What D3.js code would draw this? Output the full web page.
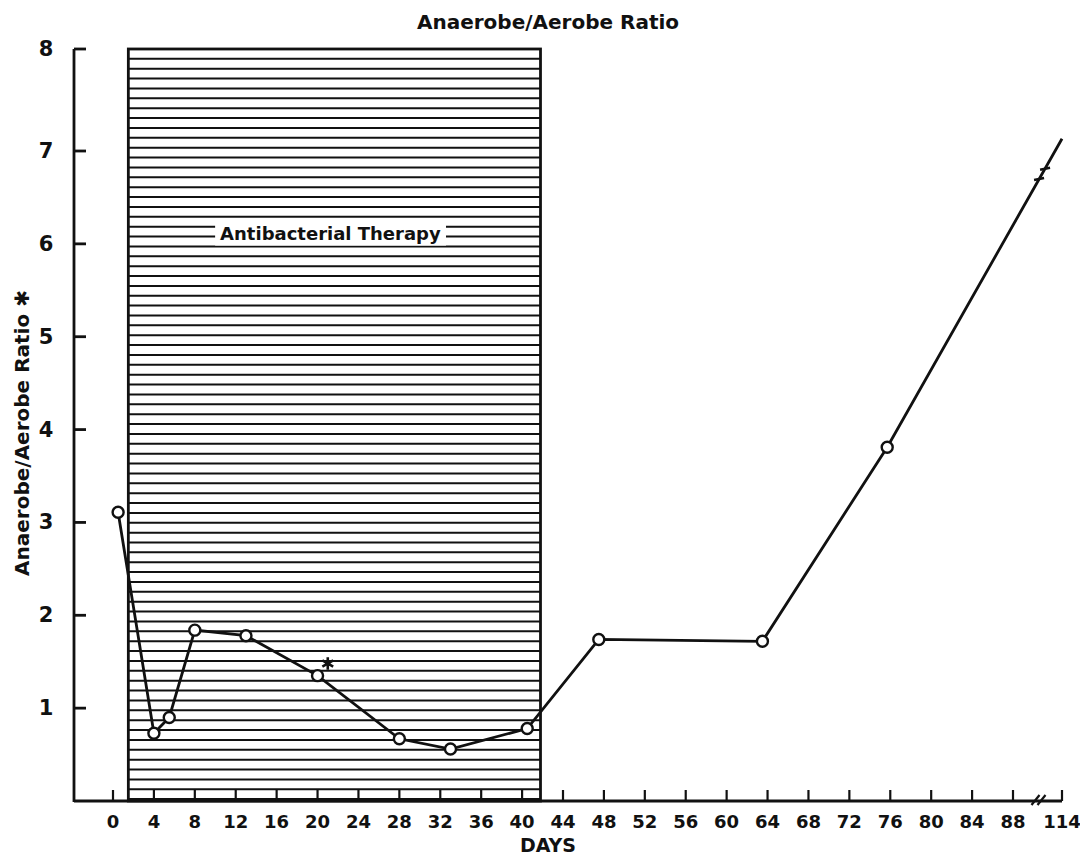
<!DOCTYPE html>
<html>
<head>
<meta charset="utf-8">
<script src="https://cdn.jsdelivr.net/npm/d3@7"></script>
<style>
  body { margin: 0; background: #fff; }
  text { font-family: "DejaVu Sans", sans-serif; font-weight: bold; fill: #111; }
</style>
</head>
<body>
<div id="chart"></div>
<script>
// values
const days   = [0.5, 4, 5.5, 8, 13, 20, 28, 33, 40.5, 47.5, 63.5, 75.7, 114];
const ratios = [3.11, 0.73, 0.9, 1.84, 1.78, 1.35, 0.67, 0.56, 0.78, 1.74, 1.72, 3.81, 7.12];
const starDay = 21, starRatio = 1.48;
const therapyDays = [1.5, 41.8];
const xTicks = [0, 4, 8, 12, 16, 20, 24, 28, 32, 36, 40, 44, 48, 52, 56, 60, 64, 68, 72, 76, 80, 84, 88, 114];
const yTicks = [1, 2, 3, 4, 5, 6, 7, 8];

const W = 1080, H = 857;
const svg = d3.select('#chart').append('svg')
  .attr('width', W)
  .attr('height', H);

// axis break between 88 and 114, hand drawn y spacing
const x = d3.scaleLinear().domain([0, 88, 114]).range([113, 1013, 1062]);
const y = d3.scaleLinear().domain([0, 7, 8]).range([801, 151, 49]);
const x0 = 74;

// hatched therapy box
const hx0 = x(therapyDays[0]), hx1 = x(therapyDays[1]);
const hatch = svg.append('g');
hatch.selectAll('line')
  .data(d3.range(y(8), y(0), 9.87))
  .join('line')
  .attr('x1', hx0).attr('x2', hx1)
  .attr('y1', d => d).attr('y2', d => d)
  .attr('stroke', '#111')
  .attr('stroke-width', 2);
hatch.append('rect')
  .attr('x', hx0).attr('y', y(8))
  .attr('width', hx1 - hx0).attr('height', y(0) - y(8))
  .attr('fill', 'none')
  .attr('stroke', '#111')
  .attr('stroke-width', 2.8);

// therapy label on a white patch
const lab = svg.append('g');
const labText = lab.append('text')
  .attr('x', (hx0 + hx1) / 2 - 4)
  .attr('y', y(6.1))
  .attr('text-anchor', 'middle')
  .attr('dominant-baseline', 'middle')
  .style('font-size', '18px')
  .text('Antibacterial Therapy');
const bb = labText.node().getBBox();
lab.insert('rect', 'text')
  .attr('x', bb.x - 5).attr('y', bb.y - 2)
  .attr('width', bb.width + 10).attr('height', bb.height + 4)
  .attr('fill', '#fff');

// axes
svg.append('line')
  .attr('x1', x0).attr('x2', x0)
  .attr('y1', y(8)).attr('y2', y(0) + 1)
  .attr('stroke', '#111').attr('stroke-width', 2.8);
svg.append('line')
  .attr('x1', x0).attr('x2', x(114))
  .attr('y1', y(0)).attr('y2', y(0))
  .attr('stroke', '#111').attr('stroke-width', 2.8);

svg.selectAll('.ytick')
  .data(yTicks)
  .join('line')
  .attr('x1', x0).attr('x2', x0 + 12)
  .attr('y1', d => y(d)).attr('y2', d => y(d))
  .attr('stroke', '#111').attr('stroke-width', 2.8);
svg.selectAll('.ylab')
  .data(yTicks)
  .join('text')
  .attr('x', 46)
  .attr('y', d => y(d))
  .attr('text-anchor', 'middle')
  .attr('dominant-baseline', 'central')
  .style('font-size', '21px')
  .text(d => d);

svg.selectAll('.xtick')
  .data(xTicks)
  .join('line')
  .attr('x1', d => x(d)).attr('x2', d => x(d))
  .attr('y1', y(0)).attr('y2', y(0) - 11)
  .attr('stroke', '#111').attr('stroke-width', 2.2);
svg.selectAll('.xlab')
  .data(xTicks)
  .join('text')
  .attr('x', d => x(d))
  .attr('y', 821)
  .attr('text-anchor', 'middle')
  .attr('dominant-baseline', 'central')
  .style('font-size', '18px')
  .text(d => d);

// break mark on the x axis
const bx = (x(88) + x(114)) / 2 + 2;
[-4, 2].forEach(o => {
  svg.append('line')
    .attr('x1', bx + o - 4).attr('y1', y(0) + 4)
    .attr('x2', bx + o + 4).attr('y2', y(0) - 6)
    .attr('stroke', '#111').attr('stroke-width', 2.2);
});

// data line
const pts = days.map((d, i) => [x(d), y(ratios[i])]);
svg.append('path')
  .attr('d', d3.line()(pts))
  .attr('fill', 'none')
  .attr('stroke', '#111')
  .attr('stroke-width', 2.8);

// break mark on the last segment
const a = pts[pts.length - 2], b = pts[pts.length - 1];
const t = 0.886;
const mx = a[0] + (b[0] - a[0]) * t, my = a[1] + (b[1] - a[1]) * t;
[-3, 3].forEach(o => {
  svg.append('line')
    .attr('x1', mx + o - 5).attr('y1', my - o * 1.7 + 1)
    .attr('x2', mx + o + 5).attr('y2', my - o * 1.7 - 1)
    .attr('stroke', '#111').attr('stroke-width', 2.5);
});

svg.selectAll('circle')
  .data(pts.slice(0, -1))
  .join('circle')
  .attr('cx', d => d[0]).attr('cy', d => d[1])
  .attr('r', 5.5)
  .attr('fill', '#fff')
  .attr('stroke', '#111')
  .attr('stroke-width', 2.4);

svg.append('path')
  .attr('transform', `translate(${x(starDay)},${y(starRatio)})`)
  .attr('d', d3.symbol(d3.symbolAsterisk, 110)())
  .attr('fill', 'none')
  .attr('stroke', '#111')
  .attr('stroke-width', 2.6);

// titles
svg.append('text')
  .attr('x', 548).attr('y', 22)
  .attr('text-anchor', 'middle')
  .attr('dominant-baseline', 'central')
  .style('font-size', '20px')
  .text('Anaerobe/Aerobe Ratio');
svg.append('text')
  .attr('x', 548).attr('y', 845)
  .attr('text-anchor', 'middle')
  .attr('dominant-baseline', 'central')
  .style('font-size', '19px')
  .text('DAYS');
svg.append('text')
  .attr('transform', 'translate(22,433) rotate(-90)')
  .attr('text-anchor', 'middle')
  .attr('dominant-baseline', 'central')
  .style('font-size', '20px')
  .text('Anaerobe/Aerobe Ratio ✱');
</script>
</body>
</html>
